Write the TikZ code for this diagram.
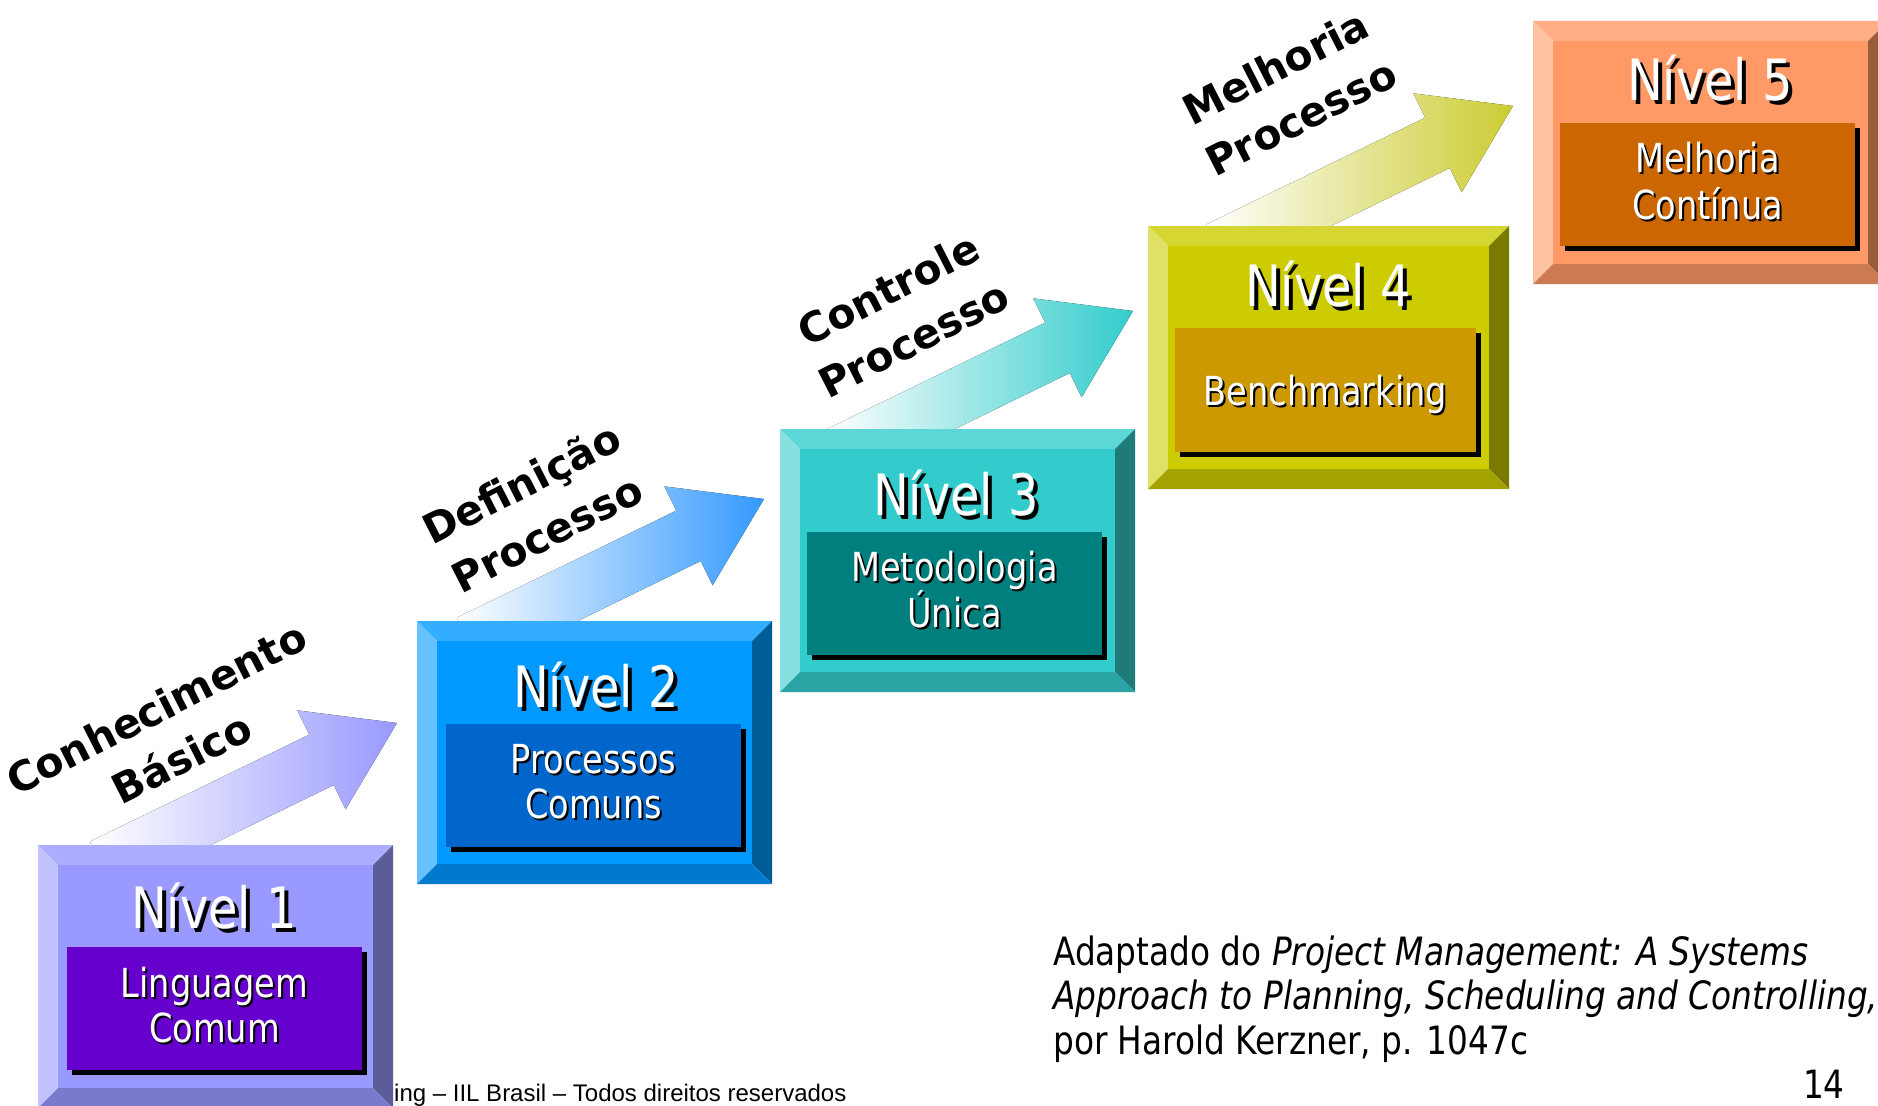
\documentclass[tikz,border=0pt]{standalone}
\usepackage{fontspec}
\setmainfont{DejaVu Sans}
\newfontfamily\tahfont[FakeStretch=0.84]{DejaVu Sans}
\newfontfamily\labfont{DejaVu Sans}
\newfontfamily\arialfont{Liberation Sans}
\usetikzlibrary{shadows}

\definecolor{fA}{HTML}{9999FF}\definecolor{iA}{HTML}{6600CC}
\definecolor{fB}{HTML}{0099FF}\definecolor{iB}{HTML}{0066CC}
\definecolor{fC}{HTML}{33CCCC}\definecolor{iC}{HTML}{007F7F}
\definecolor{fD}{HTML}{CCCC00}\definecolor{iD}{HTML}{CC9900}
\definecolor{fE}{HTML}{FF9966}\definecolor{iE}{HTML}{CC6600}
\definecolor{aA}{HTML}{9999FF}\definecolor{aB}{HTML}{3399FF}
\definecolor{aC}{HTML}{33CCCC}\definecolor{aD}{HTML}{CCCC33}

\newcommand\shad[2]{\makebox[0pt][l]{\hspace*{#1}\raisebox{-#1}{\textcolor{black}{#2}}}#2}

% #1 name, #2 x0, #3 y0, #4 x1, #5 y1, #6 face colour
\newcommand\bevelbox[6]{%
  \fill[#6!80!white] (#2,#3) -- (#4,#3) -- ({#4-20},{#3+20}) -- ({#2+20},{#3+20}) -- cycle;
  \fill[#6!60!white] (#2,#3) -- ({#2+20},{#3+20}) -- ({#2+20},{#5-20}) -- (#2,#5) -- cycle;
  \fill[#6!60!black] (#4,#3) -- (#4,#5) -- ({#4-20},{#5-20}) -- ({#4-20},{#3+20}) -- cycle;
  \fill[#6!80!black] (#2,#5) -- (#4,#5) -- ({#4-20},{#5-20}) -- ({#2+20},{#5-20}) -- cycle;
  \node[fill=#6, inner sep=0pt, anchor=north west,
        minimum width={#4-#2-40}, minimum height={#5-#3-40}] (#1) at ({#2+20},{#3+20}) {};
}

% #1 tip coordinate, #2 colour
\newcommand\risearrow[2]{%
  \begin{scope}[shift={(#1)}, rotate=26]
    \fill[left color=white, right color=#2]
      (0,0) -- (-84,-55) -- (-84,-28) -- (-328,-28) -- (-328,28) -- (-84,28) -- (-84,55) -- cycle;
  \end{scope}
}

\tikzset{
  titletxt/.style={anchor=base, inner sep=0pt, text=white,
    font=\tahfont\fontsize{57}{60}\selectfont},
  subtxt/.style={anchor=base, inner sep=0pt, text=white,
    font=\tahfont\fontsize{40}{44}\selectfont},
  innerbox/.style={anchor=north west, inner sep=0pt, minimum width=295, minimum height=123,
    drop shadow={shadow xshift=5pt, shadow yshift=-5pt, fill=black, opacity=1}},
  arrowlabel/.style={rotate=27, align=center, inner sep=0pt,
    font=\labfont\bfseries\fontsize{41}{56}\selectfont},
  note/.style={anchor=base west, inner sep=0pt,
    font=\tahfont\fontsize{39}{44}\selectfont},
}

\begin{document}
\begin{tikzpicture}[x=1pt,y=-1pt]
\clip (0,0) rectangle (1878,1105);
\fill[white] (0,0) rectangle (1878,1105);

% arrows
\coordinate (tipA) at (397,723);
\coordinate (tipB) at (764,499);
\coordinate (tipC) at (1133,311);
\coordinate (tipD) at (1513,106);
\risearrow{tipA}{aA}
\risearrow{tipB}{aB}
\risearrow{tipC}{aC}
\risearrow{tipD}{aD}

% arrow labels
\node[arrowlabel] (labA) at (169,733) {Conhecimento\\Básico};
\node[arrowlabel] (labB) at (534,508) {Definição\\Processo};
\node[arrowlabel] (labC) at (901,314) {Controle\\Processo};
\node[arrowlabel] (labD) at (1288,92) {Melhoria\\Processo};

% footer
\node[anchor=base west, inner sep=0pt, font=\arialfont\fontsize{24}{28}\selectfont]
  (foot) at (394,1101) {ing – IIL Brasil – Todos direitos reservados};

% Level 1
\bevelbox{f1}{38}{845}{393}{1108}{fA}
\node[innerbox, fill=iA] (b1) at (67,947) {};
\node[titletxt] (t1) at (214,928) {\shad{4pt}{Nível 1}};
\node[subtxt] (s1a) at (214.5,997) {\shad{2pt}{Linguagem}};
\node[subtxt] (s1b) at (214.5,1042) {\shad{2pt}{Comum}};

% Level 2
\bevelbox{f2}{417}{621}{772}{884}{fB}
\node[innerbox, fill=iB] (b2) at (446,724) {};
\node[titletxt] (t2) at (596,707) {\shad{4pt}{Nível 2}};
\node[subtxt] (s2a) at (593.5,773) {\shad{2pt}{Processos}};
\node[subtxt] (s2b) at (593.5,818) {\shad{2pt}{Comuns}};

% Level 3
\bevelbox{f3}{780}{429}{1135}{692}{fC}
\node[innerbox, fill=iC] (b3) at (807,532) {};
\node[titletxt] (t3) at (956,515) {\shad{4pt}{Nível 3}};
\node[subtxt] (s3a) at (954.5,581) {\shad{2pt}{Metodologia}};
\node[subtxt] (s3b) at (954.5,627) {\shad{2pt}{Única}};

% Level 4
\bevelbox{f4}{1148}{226}{1509}{489}{fD}
\node[innerbox, fill=iD, minimum width=301, minimum height=124] (b4) at (1175,328) {};
\node[titletxt] (t4) at (1328,306) {\shad{4pt}{Nível 4}};
\node[subtxt] (s4a) at (1325.5,405) {\shad{2pt}{Benchmarking}};

% Level 5
\bevelbox{f5}{1533}{21}{1888}{284}{fE}
\node[innerbox, fill=iE] (b5) at (1560,123) {};
\node[titletxt] (t5) at (1710,101) {\shad{4pt}{Nível 5}};
\node[subtxt] (s5a) at (1707.5,172) {\shad{2pt}{Melhoria}};
\node[subtxt] (s5b) at (1707.5,219) {\shad{2pt}{Contínua}};

% source note
\node[note] (n1) at (1053,965) {Adaptado do \textit{Project Management: A Systems}};
\node[note] (n2) at (1053,1009) {\textit{Approach to Planning, Scheduling and Controlling,}};
\node[note] (n3) at (1053,1054) {por Harold Kerzner, p. 1047c};
\node[note, anchor=base east] (pg) at (1845,1098) {14};
\end{tikzpicture}
\end{document}
